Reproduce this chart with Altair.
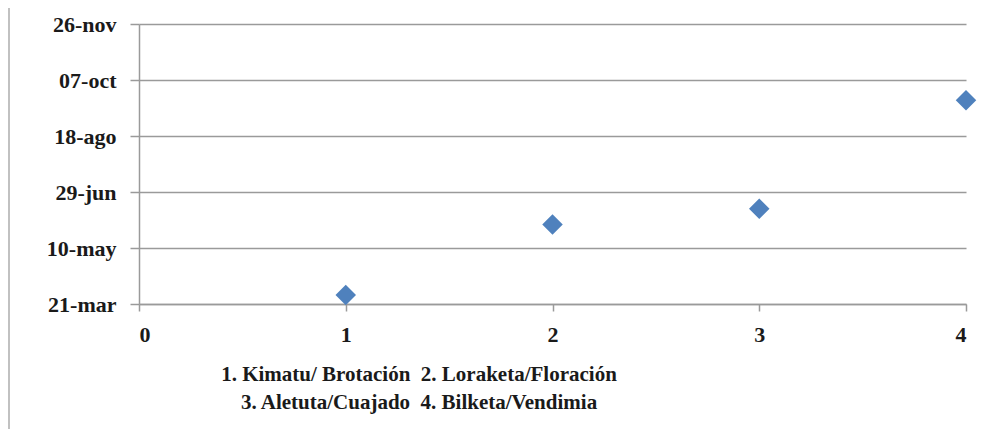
import altair as alt
import pandas as pd

# ---- data ----
stages = [1, 2, 3, 4]
dates = ["2021-03-29", "2021-05-31", "2021-06-14", "2021-09-19"]
y_tick_dates = ["2021-03-21", "2021-05-10", "2021-06-29", "2021-08-18", "2021-10-07", "2021-11-26"]
y_tick_labels = ["21-mar", "10-may", "29-jun", "18-ago", "07-oct", "26-nov"]
x_ticks = [0, 1, 2, 3, 4]
legend_lines = [
    "1. Kimatu/ Brotación\u00a0 2. Loraketa/Floración",
    "3. Aletuta/Cuajado\u00a0 4. Bilketa/Vendimia",
]

origin = pd.Timestamp(y_tick_dates[0])
df = pd.DataFrame({
    "stage": stages,
    "date": dates,
    "day": [(pd.Timestamp(d) - origin).days for d in dates],
})
tick_days = [(pd.Timestamp(d) - origin).days for d in y_tick_dates]

label_expr = "[{}][indexof([{}], datum.value)]".format(
    ",".join("'{}'".format(s) for s in y_tick_labels),
    ",".join(str(v) for v in tick_days),
)

FONT = "Liberation Serif"
GRAY = "#9a9a9a"
TEXT = "#1a1a1a"

W, H = 827, 280

points = alt.Chart(df).mark_point(
    shape="diamond", filled=True, size=420, color="#4F81BD", opacity=1
).encode(
    x=alt.X("stage:Q",
            scale=alt.Scale(domain=[0, 4], nice=False, zero=True),
            axis=alt.Axis(values=x_ticks, format="d", title=None, grid=False,
                          domain=True, domainColor=GRAY, domainWidth=1.5,
                          ticks=True, tickColor=GRAY, tickSize=7, tickWidth=1.5,
                          labelFont=FONT, labelFontSize=22, labelFontWeight="bold",
                          labelColor=TEXT, labelPadding=13)),
    y=alt.Y("day:Q",
            scale=alt.Scale(domain=[tick_days[0], tick_days[-1]], nice=False, zero=False),
            axis=alt.Axis(values=tick_days, labelExpr=label_expr, title=None,
                          grid=True, gridColor=GRAY, gridWidth=1.5,
                          domain=True, domainColor=GRAY, domainWidth=1.5,
                          ticks=True, tickColor=GRAY, tickSize=9, tickWidth=1.5,
                          labelFont=FONT, labelFontSize=22, labelFontWeight="bold",
                          labelColor=TEXT, labelPadding=14)),
    tooltip=["stage:Q", "date:N"],
)

border = alt.Chart(df).mark_rule(color="#c0c0c0", strokeWidth=1.5).encode(
    x=alt.value(-130), y=alt.value(-16), y2=alt.value(H + 125)
)

legend_df = pd.DataFrame({"line": legend_lines, "row": [0, 1]})
legend_layers = [
    alt.Chart(legend_df).transform_filter(alt.datum.row == i).mark_text(
        font=FONT, fontSize=21, fontWeight="bold", color=TEXT,
        align="center", baseline="middle",
    ).encode(text="line:N", x=alt.value(280), y=alt.value(351 + 28 * i))
    for i in range(len(legend_lines))
]

chart = alt.layer(border, points, *legend_layers).properties(
    width=W,
    height=H,
    autosize=alt.AutoSizeParams(type="none"),
    padding={"left": 131, "top": 16, "right": 18, "bottom": 125},
).configure_view(stroke=None)

chart.save("out.html", embed_options={"renderer": "svg", "actions": False})
